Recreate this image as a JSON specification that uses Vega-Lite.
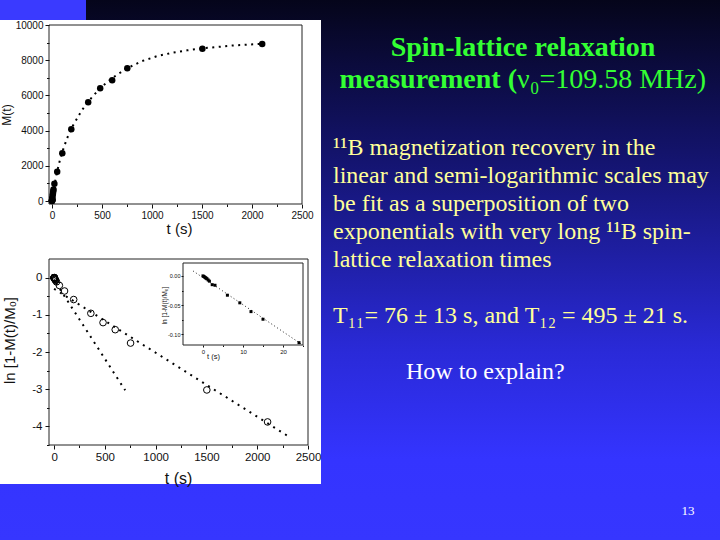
{
  "$schema": "https://vega.github.io/schema/vega-lite/v6.json",
  "width": 720,
  "height": 540,
  "padding": 0,
  "autosize": {"type": "none"},
  "config": {
    "view": {"stroke": null},
    "axis": {
      "zindex": 1,
      "grid": false,
      "labelFont": "Liberation Sans",
      "titleFont": "Liberation Sans",
      "labelColor": "#111111",
      "titleColor": "#111111",
      "tickColor": "#111111",
      "domainColor": "#111111",
      "titleFontWeight": "normal",
      "labelOverlap": false,
      "labelFlush": false,
      "labelBound": false,
      "domain": false
    }
  },
  "datasets": {
    "rec": [
      {"t": 0, "M": 0, "v": 0},
      {"t": 0.2, "M": 9, "v": -0.001},
      {"t": 0.4, "M": 18, "v": -0.002},
      {"t": 0.6, "M": 27, "v": -0.003},
      {"t": 0.8, "M": 36, "v": -0.004},
      {"t": 1.0, "M": 45, "v": -0.005},
      {"t": 1.3, "M": 64, "v": -0.007},
      {"t": 1.6, "M": 82, "v": -0.009},
      {"t": 2.3, "M": 136, "v": -0.015},
      {"t": 3.0, "M": 145, "v": -0.016},
      {"t": 6.1, "M": 296, "v": -0.033},
      {"t": 9.2, "M": 410, "v": -0.046},
      {"t": 12, "M": 539, "v": -0.061},
      {"t": 15, "M": 650, "v": -0.074},
      {"t": 24, "M": 981, "v": -0.114},
      {"t": 52, "M": 1665, "v": -0.21},
      {"t": 103, "M": 2710, "v": -0.36},
      {"t": 193, "M": 4074, "v": -0.59},
      {"t": 362, "M": 5608, "v": -0.96},
      {"t": 482, "M": 6401, "v": -1.21},
      {"t": 602, "M": 6856, "v": -1.40},
      {"t": 753, "M": 7538, "v": -1.76},
      {"t": 1504, "M": 8655, "v": -3.02},
      {"t": 2102, "M": 8920, "v": -3.88}
    ],
    "fitTop": [
      {"t": 0, "M": 0}, {"t": 5, "M": 200}, {"t": 10, "M": 385}, {"t": 25, "M": 900},
      {"t": 50, "M": 1630}, {"t": 75, "M": 2230}, {"t": 100, "M": 2740}, {"t": 150, "M": 3555},
      {"t": 200, "M": 4195}, {"t": 300, "M": 5172}, {"t": 400, "M": 5905}, {"t": 500, "M": 6507},
      {"t": 600, "M": 6982}, {"t": 750, "M": 7538}, {"t": 900, "M": 7950}, {"t": 1050, "M": 8230},
      {"t": 1200, "M": 8420}, {"t": 1350, "M": 8560}, {"t": 1500, "M": 8670}, {"t": 1800, "M": 8830},
      {"t": 2100, "M": 8930}
    ],
    "fitLn": [
      {"g": "fast", "t": 20, "v": -0.15},
      {"g": "fast", "t": 700, "v": -3.03},
      {"g": "slow", "t": 0, "v": -0.3},
      {"g": "slow", "t": 2320, "v": -4.29}
    ],
    "fitInset": [
      {"t": -2.5, "v": 0.0085},
      {"t": 24.7, "v": -0.117}
    ],
    "title1": [{"line": 1, "text": "Spin-lattice relaxation"}],
    "title2": [{"line": 2, "text": "measurement ("}],
    "title3": [{"line": 2, "text": "ν₀=109.58 MHz)"}],
    "body": [
      {"line": 1, "kind": "body", "text": "¹¹B magnetization recovery in the"},
      {"line": 2, "kind": "body", "text": "linear and semi-logarithmic scales may"},
      {"line": 3, "kind": "body", "text": "be fit as a superposition of two"},
      {"line": 4, "kind": "body", "text": "exponentials with very long ¹¹B spin-"},
      {"line": 5, "kind": "body", "text": "lattice relaxation times"},
      {"line": 7, "kind": "body", "text": "T₁₁= 76 ± 13 s, and T₁₂ = 495 ± 21 s."},
      {"line": 9, "kind": "question", "text": "How to explain?"}
    ],
    "page": [{"text": "13"}]
  },
  "layer": [
    {
      "data": {"values": [{}]},
      "mark": {"type": "rect", "fill": {"gradient": "linear", "x1": 0, "y1": 0, "x2": 0, "y2": 1, "stops": [{"offset": 0, "color": "#05051a"}, {"offset": 0.3, "color": "#141470"}, {"offset": 0.65, "color": "#2a2ad8"}, {"offset": 0.85, "color": "#3434ff"}, {"offset": 1, "color": "#3636ff"}]}},
      "encoding": {"x": {"value": 0}, "x2": {"value": 720}, "y": {"value": 0}, "y2": {"value": 540}}
    },
    {
      "data": {"values": [{}]},
      "mark": {"type": "rect", "fill": "#3a3aff"},
      "encoding": {"x": {"value": 0}, "x2": {"value": 86}, "y": {"value": 0}, "y2": {"value": 20}}
    },
    {
      "data": {"values": [{}]},
      "mark": {"type": "rect", "fill": "#ffffff"},
      "encoding": {"x": {"value": 0}, "x2": {"value": 321}, "y": {"value": 20}, "y2": {"value": 484}}
    },
    {
      "data": {"values": [{}]},
      "mark": {"type": "rect", "fill": null, "stroke": "#222222", "strokeWidth": 1},
      "encoding": {
        "x": {"datum": -30, "type": "quantitative", "scale": {"domain": [-30, 2500], "range": [49, 302], "nice": false, "zero": false},
              "axis": {"zindex": 1, "orient": "bottom", "offset": -336, "values": [250, 750, 1250, 1750, 2250], "labels": false, "tickSize": 2.5, "title": null}},
        "x2": {"datum": 2500},
        "y": {"datum": -170, "type": "quantitative", "scale": {"domain": [-170, 10000], "range": [204, 25], "nice": false, "zero": false},
              "axis": {"zindex": 1, "orient": "left", "offset": -49, "values": [1000, 3000, 5000, 7000, 9000], "labels": false, "tickSize": 2.5, "title": null}},
        "y2": {"datum": 10000}
      }
    },
    {
      "layer": [
        {
          "data": {"name": "fitTop"},
          "mark": {"type": "line", "color": "#000000", "strokeWidth": 2, "strokeDash": [2, 4.5]},
          "encoding": {
            "x": {"field": "t", "type": "quantitative", "scale": {"domain": [-30, 2500], "range": [49, 302], "nice": false, "zero": false},
                  "axis": {"zindex": 1, "orient": "bottom", "offset": -336, "values": [0, 500, 1000, 1500, 2000, 2500], "format": "d", "tickSize": 4, "labelFontSize": 10, "labelPadding": 2, "title": "t (s)", "titleFontSize": 15, "titleBaseline": "middle", "titleX": 179, "titleY": 24}},
            "y": {"field": "M", "type": "quantitative", "scale": {"domain": [-170, 10000], "range": [204, 25], "nice": false, "zero": false},
                  "axis": {"zindex": 1, "orient": "left", "offset": -49, "values": [0, 2000, 4000, 6000, 8000, 10000], "format": "d", "tickSize": 4, "labelFontSize": 10, "labelPadding": 2, "title": "M(t)", "titleFontSize": 12, "titleX": -36}}
          }
        },
        {
          "data": {"name": "rec"},
          "mark": {"type": "circle", "color": "#000000", "size": 42, "opacity": 1},
          "encoding": {
            "x": {"field": "t", "type": "quantitative"},
            "y": {"field": "M", "type": "quantitative"}
          }
        }
      ]
    },
    {
      "data": {"values": [{}]},
      "mark": {"type": "rect", "fill": null, "stroke": "#222222", "strokeWidth": 1},
      "encoding": {
        "x": {"datum": -50, "type": "quantitative", "scale": {"domain": [-50, 2500], "range": [49, 308], "nice": false, "zero": false},
              "axis": {"zindex": 1, "orient": "bottom", "offset": -95, "values": [250, 750, 1250, 1750, 2250], "labels": false, "tickSize": 2.5, "title": null}},
        "x2": {"datum": 2500},
        "y": {"datum": -4.5, "type": "quantitative", "scale": {"domain": [-4.5, 0.5], "range": [445, 259], "nice": false, "zero": false},
              "axis": {"zindex": 1, "orient": "left", "offset": -49, "values": [-4.5, -3.5, -2.5, -1.5, -0.5], "labels": false, "tickSize": 2.5, "title": null}},
        "y2": {"datum": 0.5}
      }
    },
    {
      "layer": [
        {
          "data": {"name": "fitLn"},
          "mark": {"type": "line", "color": "#000000", "strokeWidth": 2, "strokeDash": [2, 5]},
          "encoding": {
            "x": {"field": "t", "type": "quantitative", "scale": {"domain": [-50, 2500], "range": [49, 308], "nice": false, "zero": false},
                  "axis": {"zindex": 1, "orient": "bottom", "offset": -95, "values": [0, 500, 1000, 1500, 2000, 2500], "format": "d", "tickSize": 4, "labelFontSize": 11.5, "labelPadding": 2, "title": "t (s)", "titleFontSize": 16, "titleBaseline": "middle", "titleX": 178, "titleY": 33}},
            "y": {"field": "v", "type": "quantitative", "scale": {"domain": [-4.5, 0.5], "range": [445, 259], "nice": false, "zero": false},
                  "axis": {"zindex": 1, "orient": "left", "offset": -49, "values": [0, -1, -2, -3, -4], "labelExpr": "replace(format(datum.value, 'd'), '−', '-')", "tickSize": 4, "labelFontSize": 11.5, "labelPadding": 3, "title": "ln [1-M(t)/M₀]", "titleFontSize": 15, "titleX": -32, "titleY": 340}},
            "detail": {"field": "g", "type": "nominal"}
          }
        },
        {
          "data": {"name": "rec"},
          "mark": {"type": "point", "shape": "circle", "filled": false, "stroke": "#000000", "strokeWidth": 1, "size": 44, "opacity": 1},
          "encoding": {
            "x": {"field": "t", "type": "quantitative"},
            "y": {"field": "v", "type": "quantitative"}
          }
        }
      ]
    },
    {
      "data": {"values": [{}]},
      "mark": {"type": "rect", "fill": "#ffffff", "stroke": "#222222", "strokeWidth": 1},
      "encoding": {
        "x": {"datum": -5, "type": "quantitative", "scale": {"domain": [-5, 25], "range": [183, 303], "nice": false, "zero": false},
              "axis": {"zindex": 1, "orient": "bottom", "offset": -195, "values": [5, 15, 25], "labels": false, "tickSize": 1.5, "title": null}},
        "x2": {"datum": 25},
        "y": {"datum": -0.118, "type": "quantitative", "scale": {"domain": [-0.118, 0.022], "range": [345, 263], "nice": false, "zero": false},
              "axis": {"zindex": 1, "orient": "left", "offset": -183, "values": [-0.075, -0.025], "labels": false, "tickSize": 1.5, "title": null}},
        "y2": {"datum": 0.022}
      }
    },
    {
      "layer": [
        {
          "data": {"name": "fitInset"},
          "mark": {"type": "line", "color": "#222222", "strokeWidth": 1, "strokeDash": [1, 2.5]},
          "encoding": {
            "x": {"field": "t", "type": "quantitative", "scale": {"domain": [-5, 25], "range": [183, 303], "nice": false, "zero": false},
                  "axis": {"zindex": 1, "orient": "bottom", "offset": -195, "values": [0, 10, 20], "format": "d", "tickSize": 2, "labelFontSize": 6, "labelPadding": 1, "title": "t (s)", "titleFontSize": 7.5, "titleBaseline": "middle", "titleX": 213, "titleY": 11}},
            "y": {"field": "v", "type": "quantitative", "scale": {"domain": [-0.118, 0.022], "range": [345, 263], "nice": false, "zero": false},
                  "axis": {"zindex": 1, "orient": "left", "offset": -183, "values": [0, -0.05, -0.1], "labelExpr": "replace(format(datum.value, '.2f'), '−', '-')", "tickSize": 2, "labelFontSize": 5.5, "labelPadding": 1, "title": "ln [1-M(t)/M₀]", "titleFontSize": 6.5, "titleX": -16, "titleY": 305}}
          }
        },
        {
          "data": {"name": "rec"},
          "transform": [{"filter": "datum.t <= 25"}],
          "mark": {"type": "square", "color": "#000000", "size": 9, "opacity": 1},
          "encoding": {
            "x": {"field": "t", "type": "quantitative"},
            "y": {"field": "v", "type": "quantitative"}
          }
        }
      ]
    },
    {
      "data": {"name": "title1"},
      "mark": {"type": "text", "font": "Liberation Serif", "fontWeight": "bold", "fontSize": 28, "color": "#33ff33", "align": "center", "baseline": "alphabetic"},
      "encoding": {
        "x": {"value": 523},
        "y": {"field": "line", "type": "quantitative", "scale": {"domain": [1, 2], "range": [56, 88]}, "axis": null},
        "text": {"field": "text"}
      }
    },
    {
      "data": {"name": "title2"},
      "mark": {"type": "text", "font": "Liberation Serif", "fontWeight": "bold", "fontSize": 28, "color": "#33ff33", "align": "right", "baseline": "alphabetic"},
      "encoding": {
        "x": {"value": 517},
        "y": {"field": "line", "type": "quantitative", "scale": {"domain": [1, 2], "range": [56, 88]}, "axis": null},
        "text": {"field": "text"}
      }
    },
    {
      "data": {"name": "title3"},
      "mark": {"type": "text", "font": "Liberation Serif", "fontWeight": "normal", "fontSize": 28, "color": "#33ff33", "align": "left", "baseline": "alphabetic"},
      "encoding": {
        "x": {"value": 517},
        "y": {"field": "line", "type": "quantitative", "scale": {"domain": [1, 2], "range": [56, 88]}, "axis": null},
        "text": {"field": "text"}
      }
    },
    {
      "data": {"name": "body"},
      "mark": {"type": "text", "font": "Liberation Serif", "fontSize": 24, "align": "left", "baseline": "alphabetic"},
      "encoding": {
        "x": {"field": "kind", "type": "nominal", "scale": {"type": "point", "domain": ["body", "question"], "range": [333, 406], "padding": 0}, "axis": null},
        "y": {"field": "line", "type": "quantitative", "scale": {"domain": [1, 9], "range": [155, 379]}, "axis": null},
        "color": {"field": "kind", "type": "nominal", "scale": {"domain": ["body", "question"], "range": ["#ffff99", "#ffffff"]}, "legend": null},
        "text": {"field": "text"}
      }
    },
    {
      "data": {"name": "page"},
      "mark": {"type": "text", "font": "Liberation Serif", "fontSize": 13, "color": "#ffffff", "align": "center", "baseline": "alphabetic"},
      "encoding": {
        "x": {"value": 688},
        "y": {"value": 515},
        "text": {"field": "text"}
      }
    }
  ],
  "resolve": {
    "scale": {"x": "independent", "y": "independent", "color": "independent"},
    "axis": {"x": "independent", "y": "independent"}
  }
}
